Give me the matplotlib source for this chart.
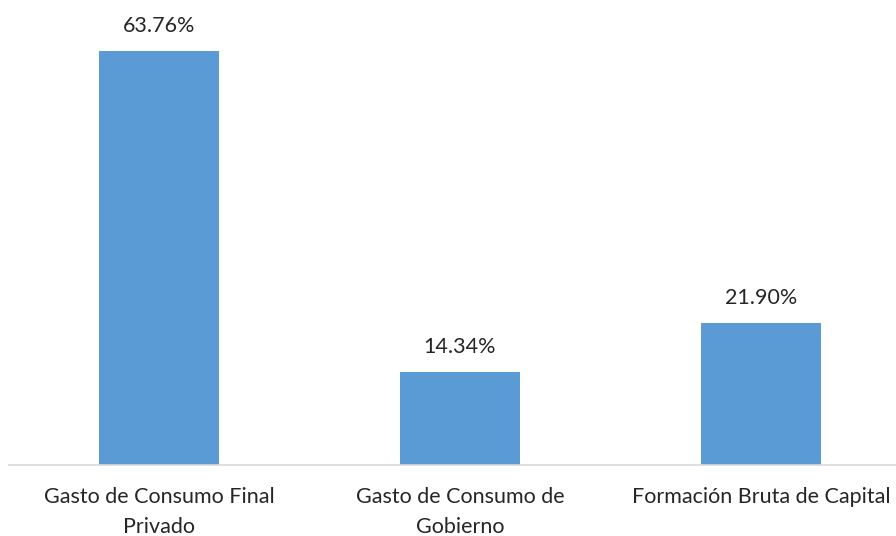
import matplotlib
matplotlib.use("Agg")
from matplotlib import pyplot as plt

categories = ["Gasto de Consumo Final\nPrivado", "Gasto de Consumo de\nGobierno", "Formación Bruta de Capital"]
values = [63.76, 14.34, 21.90]
labels = ["63.76%", "14.34%", "21.90%"]

plt.rcParams['font.family'] = ['Lato', 'DejaVu Sans']

fig = plt.figure(figsize=(8.96, 5.36), dpi=100)
W, H = 896, 536
# axes spans a bit past the right edge, like the cropped original
ax = fig.add_axes([8.5 / W, (H - 465) / H, 903 / W, 454 / H])

x = range(len(values))
bars = ax.bar(x, values, width=0.4, color="#5B9BD5")
ax.set_xlim(-0.5, 2.5)
ax.set_ylim(0, 70)

for b, lab in zip(bars, labels):
    ax.annotate(lab, (b.get_x() + b.get_width() / 2, b.get_height()),
                xytext=(0, 11), textcoords="offset points",
                ha="center", va="bottom", fontsize=15.5, color="#262626")

ax.set_xticks(list(x))
ax.set_xticklabels(categories, fontsize=15.5, color="#262626", linespacing=1.6)
ax.tick_params(axis="x", length=0, pad=16)
ax.set_yticks([])
for s in ["top", "left", "right"]:
    ax.spines[s].set_visible(False)
ax.spines["bottom"].set_color("#d9d9d9")
ax.spines["bottom"].set_linewidth(1.2)

fig.savefig("out.png", dpi=100)
